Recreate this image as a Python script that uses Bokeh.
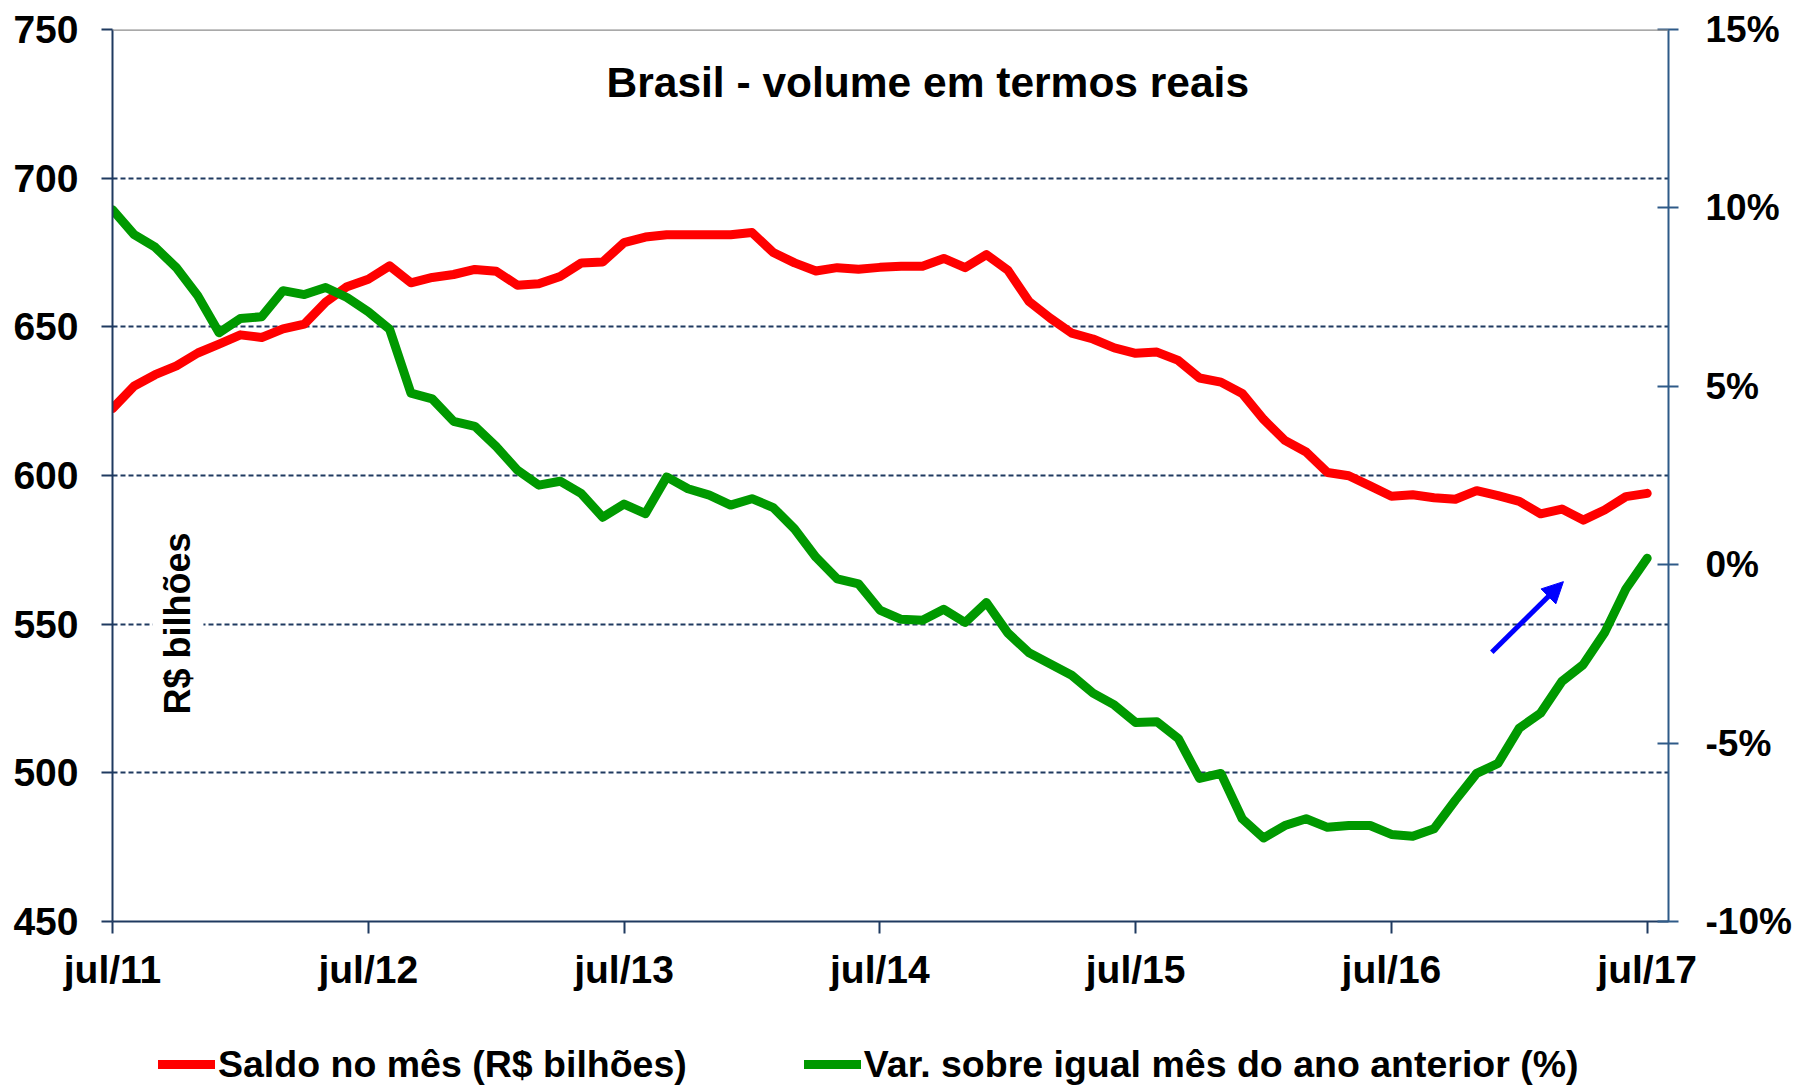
import math
from bokeh.plotting import figure
from bokeh.layouts import column
from bokeh.models import (Range1d, LinearAxis, FixedTicker, Span, Label, Arrow, NormalHead,
                          Legend, LegendItem, ColumnDataSource, PrintfTickFormatter)
from bokeh.embed import file_html
from bokeh.resources import INLINE

# ---- data (monthly, jul/11 .. jul/17) ----
saldo = [622.5, 630.0, 633.9, 636.9, 641.2, 644.2, 647.3, 646.4, 649.3, 650.9,
         658.3, 663.5, 666.0, 670.5, 664.8, 666.6, 667.6, 669.3, 668.7, 664.0,
         664.5, 666.9, 671.5, 671.8, 678.3, 680.2, 681.0, 681.0, 681.0, 681.0,
         681.7, 675.0, 671.5, 668.8, 669.9, 669.4, 670.0, 670.4, 670.4, 673.0,
         669.9, 674.3, 669.1, 658.5, 652.9, 647.9, 645.9, 642.9, 641.1, 641.5,
         638.7, 632.8, 631.4, 627.6, 618.9, 611.8, 607.9, 601.0, 599.9, 596.5,
         593.0, 593.5, 592.5, 592.0, 594.9, 593.2, 591.3, 587.1, 588.7, 585.0,
         588.4, 592.9, 594.0]
var_pct = [9.95, 9.26, 8.90, 8.32, 7.54, 6.50, 6.90, 6.95, 7.68, 7.57,
           7.77, 7.49, 7.09, 6.60, 4.81, 4.65, 4.02, 3.88, 3.31, 2.65,
           2.23, 2.34, 1.99, 1.33, 1.70, 1.43, 2.46, 2.13, 1.95, 1.67,
           1.85, 1.60, 1.00, 0.21, -0.40, -0.54, -1.27, -1.53, -1.56, -1.25,
           -1.62, -1.06, -1.91, -2.47, -2.78, -3.10, -3.60, -3.93, -4.42, -4.40,
           -4.87, -5.99, -5.85, -7.12, -7.66, -7.31, -7.12, -7.36, -7.31, -7.31,
           -7.56, -7.61, -7.40, -6.60, -5.85, -5.57, -4.58, -4.16, -3.27, -2.80,
           -1.91, -0.68, 0.18]
months = list(range(len(saldo)))
x_tick_pos = [0, 12, 24, 36, 48, 60, 72]
x_tick_labels = ["jul/11", "jul/12", "jul/13", "jul/14", "jul/15", "jul/16", "jul/17"]
left_ticks = [450, 500, 550, 600, 650, 700, 750]
right_ticks = [-10, -5, 0, 5, 10, 15]
series_names = ["Saldo no mês (R$ bilhões)", "Var. sobre igual mês do ano anterior (%)"]

NAVY = "#1F3A60"
NAVY2 = "#2E5A88"
RED = "#FF0000"
GREEN = "#009900"
FONT = "Liberation Sans"

src = ColumnDataSource(data=dict(m=months, saldo=saldo, var=var_pct))

p = figure(width=1796, height=1030, x_range=Range1d(0, 73), y_range=Range1d(450, 750),
           output_backend="svg", toolbar_location=None,
           min_border_left=112, min_border_right=128, min_border_top=29, min_border_bottom=109)
p.outline_line_color = None
p.background_fill_color = "white"
p.border_fill_color = "white"
p.extra_y_ranges = {"pct": Range1d(-10, 15)}

# grid
p.xgrid.visible = False
p.ygrid.ticker = FixedTicker(ticks=[500, 550, 600, 650, 700])
p.ygrid.grid_line_color = NAVY
p.ygrid.grid_line_dash = "5 3"
p.ygrid.grid_line_width = 2
p.add_layout(Span(location=750, dimension="width", line_color="#8C8C8C", line_width=2.5))

# left axis
ya = p.yaxis[0]
ya.ticker = FixedTicker(ticks=left_ticks)
ya.axis_line_color = NAVY
ya.axis_line_width = 2
ya.major_tick_line_color = NAVY
ya.major_tick_line_width = 2
ya.major_tick_out = 11
ya.major_tick_in = 0
ya.minor_tick_out = 0
ya.minor_tick_in = 0
ya.major_label_standoff = 23
ya.major_label_text_font = FONT
ya.major_label_text_font_style = "bold"
ya.major_label_text_font_size = "39px"
ya.major_label_text_color = "black"

# right axis
ra = LinearAxis(y_range_name="pct", ticker=FixedTicker(ticks=right_ticks),
                formatter=PrintfTickFormatter(format="%d%%"))
ra.axis_line_color = NAVY2
ra.axis_line_width = 2
ra.major_tick_line_color = NAVY2
ra.major_tick_line_width = 2
ra.major_tick_out = 10
ra.major_tick_in = 11
ra.minor_tick_out = 0
ra.minor_tick_in = 0
ra.major_label_standoff = 27
ra.major_label_text_font = FONT
ra.major_label_text_font_style = "bold"
ra.major_label_text_font_size = "37px"
ra.major_label_text_color = "black"
p.add_layout(ra, "right")

# x axis
xa = p.xaxis[0]
xa.ticker = FixedTicker(ticks=x_tick_pos)
xa.major_label_overrides = {k: v for k, v in zip(x_tick_pos, x_tick_labels)}
xa.axis_line_color = NAVY
xa.axis_line_width = 2
xa.major_tick_line_color = NAVY
xa.major_tick_line_width = 2
xa.major_tick_out = 12
xa.major_tick_in = 0
xa.minor_tick_out = 0
xa.minor_tick_in = 0
xa.major_label_standoff = 14
xa.major_label_text_font = FONT
xa.major_label_text_font_style = "bold"
xa.major_label_text_font_size = "39px"
xa.major_label_text_color = "black"

# series
p.line(x="m", y="saldo", source=src, line_color=RED, line_width=9,
       line_join="round", line_cap="round")
p.line(x="m", y="var", source=src, y_range_name="pct", line_color=GREEN,
       line_width=9, line_join="round", line_cap="round")

# annotations
p.add_layout(Label(x=38.25, y=732.2, text="Brasil - volume em termos reais",
                   text_align="center", text_baseline="middle", text_font=FONT,
                   text_font_style="bold", text_font_size="42.5px", text_color="black"))
p.add_layout(Label(x=3.07, y=550.2, text="R$ bilhões", angle=math.pi / 2,
                   text_align="center", text_baseline="middle", text_font=FONT,
                   text_font_style="bold", text_font_size="36px", text_color="black",
                   background_fill_color="white", padding=5))
p.add_layout(Arrow(end=NormalHead(size=21, fill_color="#0000FF", line_color="#0000FF"),
                   x_start=64.71, y_start=540.55, x_end=68.07, y_end=564.3,
                   line_color="#0000FF", line_width=5))

# legend strip below the chart (its frame is aligned with the chart frame by the column)
pl = figure(width=1796, height=55, x_range=Range1d(0, 1), y_range=Range1d(0, 1),
            output_backend="svg", toolbar_location=None, x_axis_type=None, y_axis_type=None,
            min_border_left=0, min_border_right=0, min_border_top=0, min_border_bottom=0)
pl.outline_line_color = None
pl.xgrid.visible = False
pl.ygrid.visible = False
# same series, drawn outside this strip's visible range: only their legend samples show
lr = pl.line(x="m", y="saldo", source=src, line_color=RED, line_width=9, line_cap="round")
lg = pl.line(x="m", y="var", source=src, line_color=GREEN, line_width=9, line_cap="round")
legend = Legend(items=[LegendItem(label=series_names[0], renderers=[lr]),
                       LegendItem(label=series_names[1], renderers=[lg])],
                orientation="horizontal", location=(46, -3),
                glyph_width=57, glyph_height=48, label_height=48, label_standoff=3,
                spacing=117, padding=0, margin=0, border_line_color=None,
                background_fill_alpha=0,
                label_text_font=FONT, label_text_font_style="bold",
                label_text_font_size="37.5px", label_text_color="black")
pl.add_layout(legend)

open("out.html", "w").write(file_html(column(p, pl, spacing=0), INLINE))
